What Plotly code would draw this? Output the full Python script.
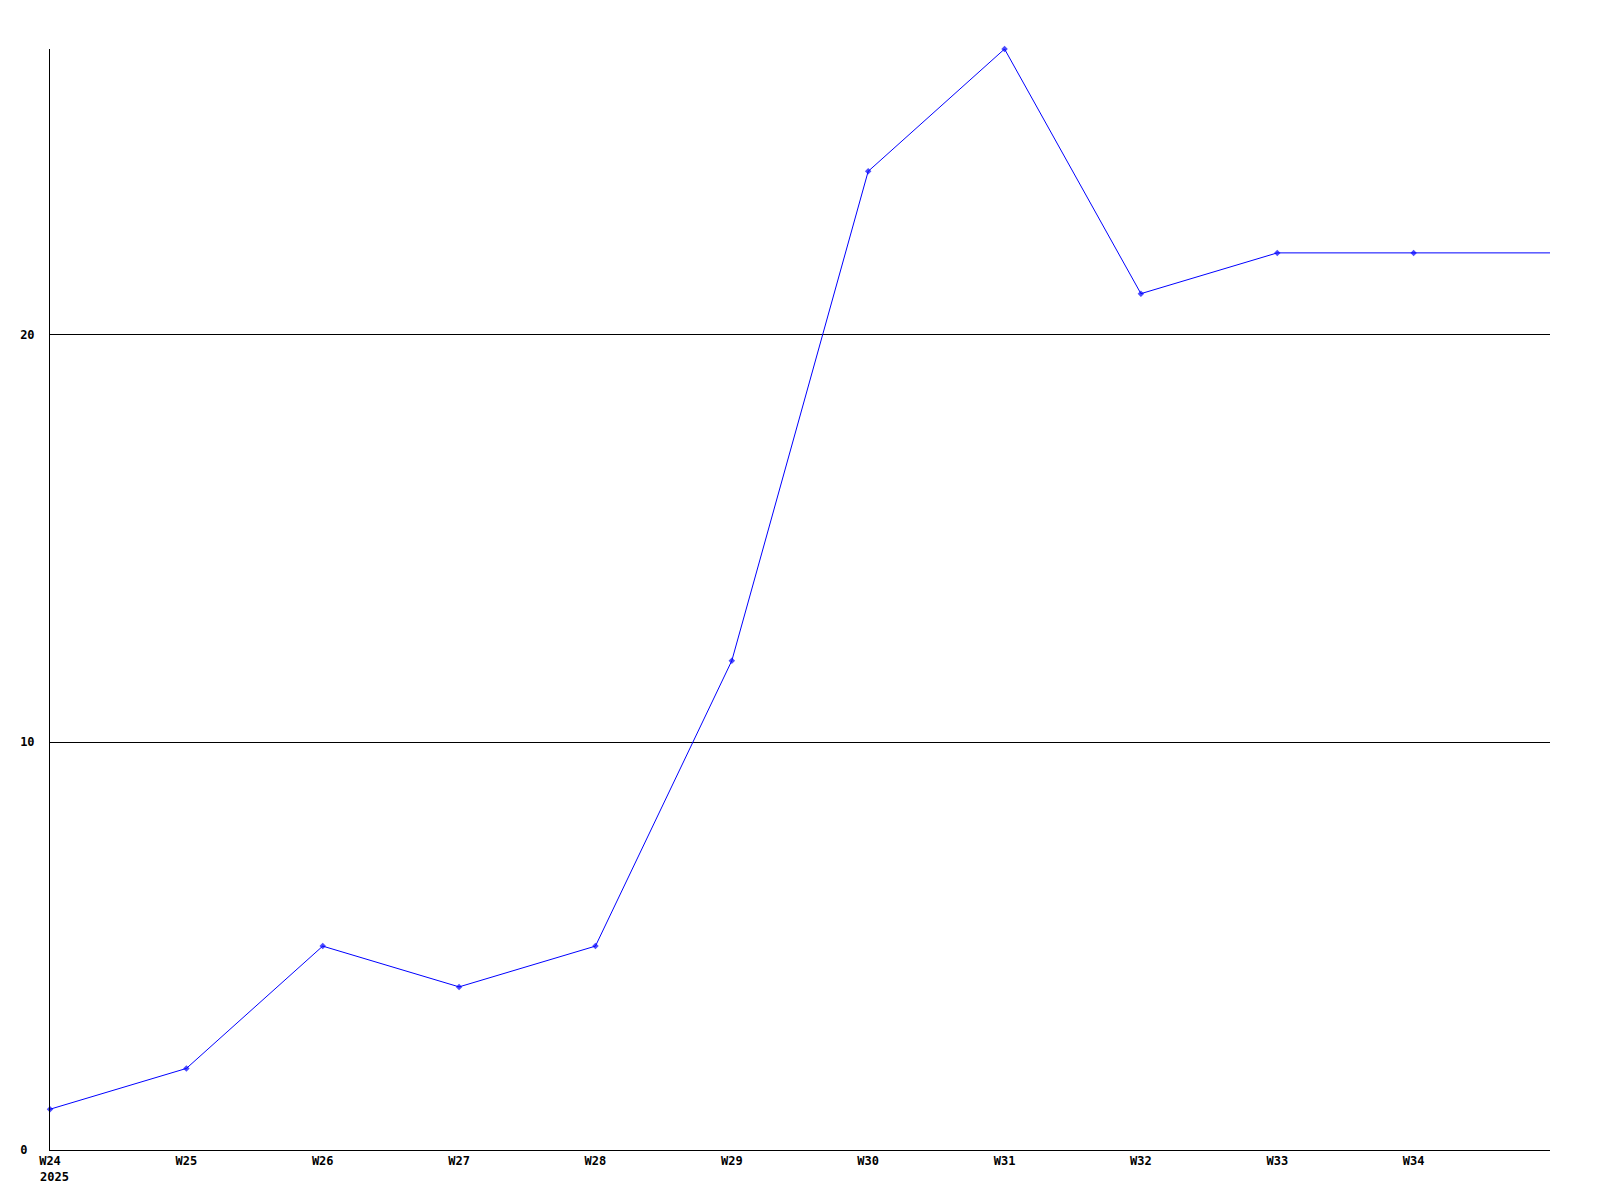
import plotly.graph_objects as go

weeks = ["W24", "W25", "W26", "W27", "W28", "W29", "W30", "W31", "W32", "W33", "W34", "W35"]
values = [1, 2, 5, 4, 5, 12, 24, 27, 21, 22, 22, 22]
tick_labels = ["W24", "W25", "W26", "W27", "W28", "W29", "W30", "W31", "W32", "W33", "W34"]
year_label = "2025"
y_ticks = [0, 10, 20]

x = list(range(len(weeks)))
# last point sits on the right edge of the plot, drawn without a marker
marker_sizes = [5] * (len(weeks) - 1) + [0]

fig = go.Figure()
fig.add_trace(go.Scatter(
    x=x, y=values, mode="lines+markers",
    line=dict(color="#0000ff", width=1),
    marker=dict(symbol="diamond", size=marker_sizes, color="#0000ff", line=dict(width=0)),
    cliponaxis=False,
    hoverinfo="skip",
))

tick_font = dict(family="DejaVu Sans Mono", size=12, color="black", weight="bold")

# left-aligned y labels: pad shorter labels with non-breaking spaces (monospace font)
max_len = max(len(str(v)) for v in y_ticks)
y_text = [str(v) + "\u00a0" * (max_len - len(str(v))) for v in y_ticks]

fig.update_layout(
    width=1600, height=1200,
    margin=dict(l=42, r=58, t=41, b=58, autoexpand=False),
    paper_bgcolor="white", plot_bgcolor="white",
    showlegend=False,
    font=dict(family="DejaVu Sans Mono", size=12, color="black"),
)
fig.update_xaxes(
    range=[0, len(weeks) - 1],
    tickmode="array", tickvals=x[:len(tick_labels)], ticktext=tick_labels,
    showgrid=False, zeroline=False,
    showline=True, linecolor="black", linewidth=1,
    ticks="", tickfont=tick_font, automargin=False,
)
fig.update_yaxes(
    range=[0, 27],
    tickmode="array", tickvals=y_ticks, ticktext=y_text,
    showgrid=True, gridcolor="black", gridwidth=1,
    zeroline=False,
    showline=True, linecolor="black", linewidth=1,
    ticks="", ticklabelstandoff=12,
    tickfont=tick_font, automargin=False,
)
fig.add_annotation(
    x=x[0], xref="x", y=0, yref="paper",
    text=year_label, showarrow=False,
    xanchor="left", yanchor="top", xshift=-12, yshift=-18,
    font=tick_font,
)

fig.write_html("out.html")
